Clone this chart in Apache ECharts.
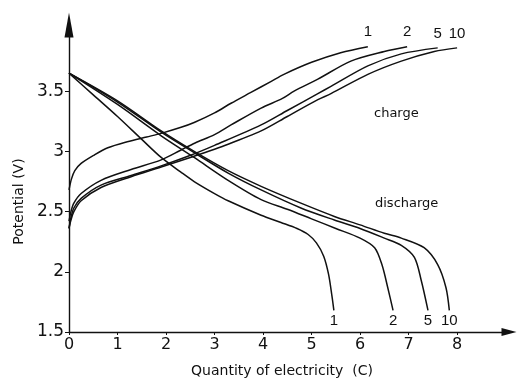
<!DOCTYPE html>
<html>
<head>
<meta charset="utf-8">
<title>charge / discharge</title>
<script src="https://cdn.jsdelivr.net/npm/echarts@6/dist/echarts.min.js"></script>
<style>
	html,body{margin:0;padding:0;background:#fff}
	#main{width:517px;height:383px}
</style>
</head>
<body>
<div id="main"></div>
<script>
// curve names (cycle number)
var cycles = ['1', '2', '5', '10'];

// tick labels
var xTicks = [0, 1, 2, 3, 4, 5, 6, 7, 8];
var yTicks = [1.5, 2, 2.5, 3, 3.5];

// charge curves: [quantity (C), potential (V)]
var charge1 = [[0,2.68],[0.05,2.77],[0.12,2.84],[0.25,2.9],[0.52,2.97],[0.8,3.03],[1.2,3.08],[1.6,3.12],[1.9,3.15],[2.31,3.2],[2.58,3.24],[3,3.32],[3.34,3.4],[3.75,3.49],[4.16,3.58],[4.43,3.64],[5,3.74],[5.6,3.82],[6.16,3.87]];
var charge2 = [[0,2.42],[0.04,2.5],[0.1,2.57],[0.25,2.65],[0.66,2.76],[1.28,2.85],[1.9,2.93],[2.3,3.01],[2.6,3.07],[3,3.14],[3.34,3.22],[3.96,3.36],[4.4,3.44],[4.64,3.5],[5.13,3.6],[5.81,3.75],[6.5,3.83],[6.97,3.87]];
var charge5 = [[0,2.36],[0.04,2.45],[0.1,2.53],[0.25,2.61],[0.66,2.72],[1.28,2.8],[1.9,2.88],[2.52,2.97],[3,3.05],[3.96,3.22],[4.5,3.34],[5.13,3.48],[5.4,3.54],[6.16,3.71],[6.85,3.81],[7.6,3.86]];
var charge10 = [[0,2.36],[0.04,2.43],[0.1,2.5],[0.25,2.59],[0.66,2.7],[1.28,2.79],[1.9,2.87],[2.5,2.95],[3.28,3.06],[3.96,3.17],[4.5,3.29],[5.13,3.43],[5.4,3.48],[6.16,3.64],[6.85,3.75],[7.53,3.83],[8.0,3.86]];

// discharge curves
var discharge1 = [[0,3.65],[0.5,3.47],[1,3.29],[1.5,3.1],[1.9,2.95],[2.3,2.83],[2.58,2.75],[3,2.65],[3.28,2.59],[3.96,2.47],[4.37,2.41],[4.7,2.36],[4.93,2.31],[5.1,2.24],[5.25,2.13],[5.35,1.98],[5.42,1.8],[5.46,1.68]];
var discharge2 = [[0,3.65],[1,3.39],[1.9,3.13],[2.58,2.95],[3.28,2.76],[3.96,2.6],[4.5,2.52],[5,2.44],[5.5,2.36],[6,2.28],[6.3,2.2],[6.45,2.06],[6.57,1.87],[6.68,1.68]];
var discharge5 = [[0,3.65],[1,3.41],[1.9,3.16],[2.58,2.99],[3.28,2.82],[3.96,2.68],[4.78,2.53],[5.47,2.43],[6,2.36],[6.5,2.28],[6.85,2.22],[7.12,2.12],[7.26,1.93],[7.4,1.68]];
var discharge10 = [[0,3.65],[1,3.42],[1.9,3.17],[2.58,3.0],[3.28,2.84],[3.96,2.71],[4.78,2.57],[5.47,2.46],[6,2.39],[6.5,2.32],[6.85,2.28],[7.32,2.2],[7.6,2.06],[7.77,1.87],[7.84,1.68]];

var chargeData = [charge1, charge2, charge5, charge10];
var dischargeData = [discharge1, discharge2, discharge5, discharge10];

var fontFam = 'DejaVu Sans';

function curve(name, data, above){
	var last = data[data.length-1];
	return {
		name: name,
		type: 'line',
		data: data,
		smooth: 0.3,
		showSymbol: false,
		lineStyle: {color: '#111', width: 1.5},
		markPoint: {
			symbol: 'circle',
			symbolSize: 0,
			data: [{coord: last}],
			label: {
				show: true,
				formatter: name,
				position: above ? 'top' : 'bottom',
				distance: above ? 7 : 3,
				color: '#111',
				fontFamily: 'Liberation Sans',
				fontSize: 15
			}
		}
	};
}

var series = [];
for(var i=0;i<cycles.length;i++){
	series.push(curve(cycles[i], chargeData[i], true));
	series.push(curve(cycles[i], dischargeData[i], false));
}

var myChart = echarts.init(document.getElementById('main'));
var option = {
	animation: false,
	backgroundColor: '#fff',
	grid: {left: 69, right: 8, top: 25, bottom: 48},
	xAxis: {
		type: 'value',
		min: 0,
		max: 9.07,
		interval: 1,
		name: 'Quantity of electricity  (C)',
		nameLocation: 'middle',
		nameGap: 32,
		nameTextStyle: {color: '#111', fontFamily: fontFam, fontSize: 14, padding: [0, 14, 0, 0]},
		splitLine: {show: false},
		axisLine: {lineStyle: {color: '#111', width: 1.4}, symbol: ['none', 'triangle'], symbolSize: [8, 15]},
		axisTick: {length: 3, customValues: xTicks, lineStyle: {color: '#111'}},
		axisLabel: {color: '#111', fontFamily: fontFam, fontSize: 16, margin: 5, customValues: xTicks}
	},
	yAxis: {
		type: 'value',
		min: 1.5,
		max: 4.05,
		interval: 0.5,
		name: 'Potential (V)',
		nameLocation: 'middle',
		nameGap: 41,
		nameTextStyle: {color: '#111', fontFamily: fontFam, fontSize: 14, padding: [0, 46, 0, 0]},
		splitLine: {show: false},
		axisLine: {show: true, lineStyle: {color: '#111', width: 1.4}, symbol: ['none', 'triangle'], symbolSize: [9, 25]},
		axisTick: {show: true, length: 4, customValues: yTicks, lineStyle: {color: '#111'}},
		axisLabel: {color: '#111', fontFamily: fontFam, fontSize: 17, margin: 5, customValues: yTicks}
	},
	graphic: [
		{type: 'text', left: 374, top: 107, style: {text: 'charge', fill: '#111', font: '13px "DejaVu Sans"'}},
		{type: 'text', left: 375, top: 197, style: {text: 'discharge', fill: '#111', font: '13px "DejaVu Sans"'}}
	],
	series: series
};
myChart.setOption(option);
</script>
</body>
</html>
